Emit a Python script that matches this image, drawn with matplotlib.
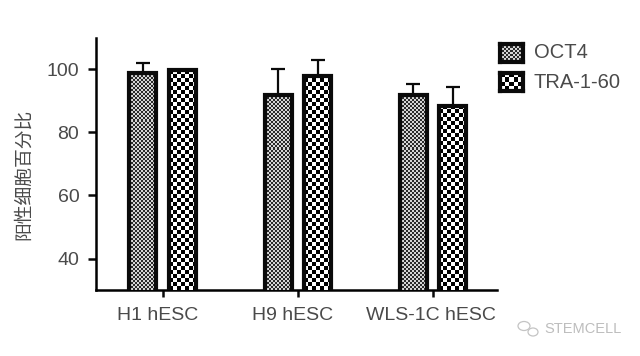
import numpy as np
import matplotlib
matplotlib.use('Agg')
import matplotlib.pyplot as plt
from matplotlib.patches import Ellipse

plt.rcParams['font.family'] = ['Liberation Sans', 'Noto Sans CJK SC', 'DejaVu Sans']

groups = ['H1 hESC', 'H9 hESC', 'WLS-1C hESC']
series_names = ['OCT4', 'TRA-1-60']
oct4 = [99, 92, 92]
oct4_err = [3.2, 8.3, 3.5]
tra = [99.7, 97.8, 88.5]
tra_err = [0, 5.2, 6]
y_ticks = [40, 60, 80, 100]
y_label = '阳性细胞百分比'

W, H = 640, 356
INK = '#0a0a0a'
TXT = '#4a4a4a'


def checker(cols, rows):
    return np.indices((rows, cols)).sum(axis=0) % 2


fig = plt.figure(figsize=(W / 100, H / 100), dpi=100)
ax = fig.add_axes([96 / W, 1 - 290 / H, 401 / W, 252 / H])

bw = 0.2
off = 0.148
x = np.arange(len(groups))


def draw_bars(xs, vals, errs, cell, vmin, vmax):
    ax.errorbar(xs, vals, yerr=[np.zeros(len(vals)), errs], fmt='none', ecolor=INK,
                elinewidth=1.6, capsize=5, capthick=1.6, zorder=2)
    bars = ax.bar(xs, vals, bw, bottom=0, facecolor='white', edgecolor='none', zorder=3)
    for b in bars:
        x0 = b.get_x()
        img = ax.imshow(checker(int(28 / cell), int(260 / cell)), cmap='gray', vmin=vmin, vmax=vmax,
                        extent=[x0, x0 + bw, 30, 30 + 260 / 3.15], origin='lower',
                        aspect='auto', interpolation='nearest', zorder=4)
        img.set_clip_path(b)
        # outline goes over the pattern
        ax.bar(x0 + bw / 2, b.get_height(), bw, facecolor='none', edgecolor=INK, linewidth=3, zorder=5)


draw_bars(x - off, oct4, oct4_err, 2, -0.25, 1.25)
draw_bars(x + off, tra, tra_err, 4, 0, 1)

ax.set_xlim(-0.496, 2.474)
ax.set_ylim(30, 110)
ax.set_xticks(x)
ax.set_xticklabels([])
# group names sit a little left of their ticks in the original
for xi, name, dx in zip(x, groups, [-5, -5, -2]):
    ax.annotate(name, xy=(xi, 0), xycoords=('data', 'axes fraction'), xytext=(dx * 0.72, -18),
                textcoords='offset points', ha='center', va='center', fontsize=14, color=TXT)
ax.set_yticks(y_ticks)
ax.tick_params(axis='y', labelsize=14, labelcolor=TXT, width=1.8, length=6, color=INK, pad=6)
ax.tick_params(axis='x', width=1.8, length=5, color=INK)
ax.spines['top'].set_visible(False)
ax.spines['right'].set_visible(False)
ax.spines['left'].set_linewidth(1.8)
ax.spines['bottom'].set_linewidth(1.8)
ax.set_ylabel(y_label, fontsize=13.5, color=TXT)
ax.yaxis.set_label_coords((33 - 96) / 401, (290 - 174) / 252)

# legend swatches
for name, top, cell, lo, hi in zip(series_names, [44, 73], [2, 4], [-0.25, 0], [1.25, 1]):
    la = fig.add_axes([500 / W, 1 - (top + 18) / H, 23 / W, 18 / H])
    la.imshow(checker(int(23 / cell), int(18 / cell)), cmap='gray', vmin=lo, vmax=hi,
              aspect='auto', interpolation='nearest')
    la.set_xticks([])
    la.set_yticks([])
    for s in la.spines.values():
        s.set_linewidth(3)
        s.set_color(INK)
    fig.text(534 / W, 1 - (top + 9) / H, name, fontsize=14.5, color=TXT, va='center', ha='left')

# watermark
fig.text(544 / W, 1 - 329 / H, 'STEMCELL', fontsize=10.5, color='#bdbdbd', va='center', ha='left')
wm = fig.add_axes([0, 0, 1, 1], facecolor='none')
wm.set_xlim(0, W)
wm.set_ylim(H, 0)
wm.axis('off')
wm.add_patch(Ellipse((524, 326), 12, 9, fill=False, edgecolor='#c4c4c4', linewidth=0.9))
wm.add_patch(Ellipse((533, 332), 10, 8, fill=False, edgecolor='#c4c4c4', linewidth=0.9))

fig.savefig('out.png', dpi=100)
